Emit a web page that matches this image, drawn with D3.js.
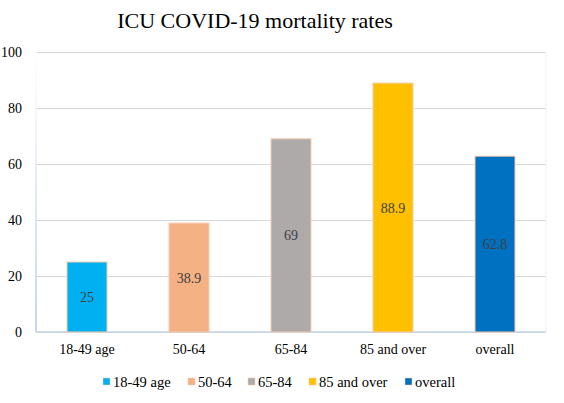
<!DOCTYPE html>
<html><head><meta charset="utf-8">
<script src="https://cdn.jsdelivr.net/npm/d3@7"></script>
<style>body{margin:0;background:#fff}svg{display:block}</style>
</head><body><svg id="c" width="564" height="403"></svg>
<script>
const categories = ["18-49 age","50-64","65-84","85 and over","overall"];
const values = [25, 38.9, 69, 88.9, 62.8];
const valueLabels = ["25","38.9","69","88.9","62.8"];
const colors = ["#00b0f0","#f4b183","#aeaaaa","#ffc000","#0070c0"];
const yTicks = [0,20,40,60,80,100];

const FONT = "'Liberation Serif', 'Times New Roman', serif";
const svg = d3.select("#c");
const L=36, R=546, T=52, B=332;
const x = d3.scaleBand().domain(categories).range([L,R]).padding(0);
const y = d3.scaleLinear().domain([0,100]).range([B,T]);
const bw = 40;

svg.append("text").attr("x",255).attr("y",28).attr("text-anchor","middle")
  .style("font-family",FONT).style("font-size","22px").attr("fill","#000").text("ICU COVID-19 mortality rates");

const yAxis = d3.axisLeft(y).tickValues(yTicks).tickSize(-(R-L)).tickPadding(14);
const gy = svg.append("g").attr("transform",`translate(${L},0)`).call(yAxis);
gy.select(".domain").remove();
gy.selectAll(".tick line").attr("stroke","#d9d9d9").attr("stroke-width",1);
gy.selectAll(".tick text").style("font-family",FONT).style("font-size","14px").attr("fill","#000");

const grad = svg.append("defs").append("linearGradient").attr("id","lg").attr("x1",0).attr("x2",0).attr("y1",0).attr("y2",1);
grad.append("stop").attr("offset","0%").attr("stop-color","#ffffff");
grad.append("stop").attr("offset","100%").attr("stop-color","#b4c7e7");
svg.append("rect").attr("x",L-0.75).attr("y",T).attr("width",1.5).attr("height",B-T).attr("fill","url(#lg)");
svg.append("line").attr("x1",R).attr("x2",R).attr("y1",T).attr("y2",B).attr("stroke","#eef1f6");
svg.append("line").attr("x1",L).attr("x2",R).attr("y1",B).attr("y2",B).attr("stroke","#c5d3ea").attr("stroke-width",1.5);

svg.selectAll("rect.bar").data(values).join("rect").attr("class","bar")
  .attr("x",(d,i)=>x(categories[i])+x.bandwidth()/2-bw/2)
  .attr("y",d=>y(d)).attr("width",bw).attr("height",d=>B-y(d))
  .attr("fill",(d,i)=>colors[i]).attr("stroke","#f8cbad").attr("stroke-width",1);

svg.selectAll("text.vl").data(values).join("text").attr("class","vl")
  .attr("x",(d,i)=>x(categories[i])+x.bandwidth()/2)
  .attr("y",d=>(y(d)+B)/2+5).attr("text-anchor","middle")
  .style("font-family",FONT).style("font-size","14px").attr("fill","#404040").text((d,i)=>valueLabels[i]);

const xAxis = d3.axisBottom(x).tickSize(0).tickPadding(12);
const gx = svg.append("g").attr("transform",`translate(0,${B})`).call(xAxis);
gx.select(".domain").remove();
gx.selectAll(".tick text").style("font-family",FONT).style("font-size","14px").attr("fill","#000");

const legX = [103,188,248,309,405];
const lg = svg.selectAll("g.leg").data(categories).join("g").attr("class","leg")
  .attr("transform",(d,i)=>`translate(${legX[i]},382)`);
lg.append("rect").attr("x",0).attr("y",-4).attr("width",7).attr("height",7)
  .attr("fill",(d,i)=>colors[i]).attr("stroke","#f8cbad").attr("stroke-width",0.5);
lg.append("text").attr("x",10).attr("y",5).style("font-family",FONT).style("font-size","14.5px").attr("fill","#000").text(d=>d);
</script></body></html>
